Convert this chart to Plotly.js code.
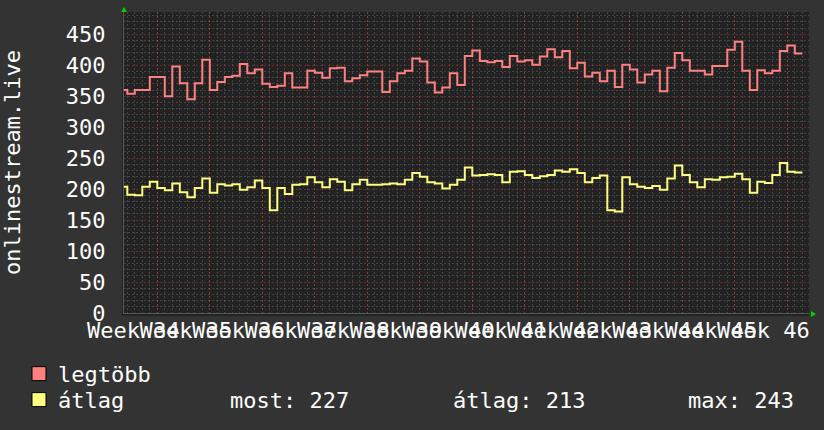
<!DOCTYPE html>
<html>
<head>
<meta charset="utf-8">
<script src="https://cdn.plot.ly/plotly-3.0.1.min.js"></script>
<style>
  html, body { margin: 0; padding: 0; background: #333333; }
  #chart { width: 824px; height: 430px; }
</style>
</head>
<body>
<div id="chart"></div>
<script>
// ---- data ----
const weekLabels = ['Week 34','Week 35','Week 36','Week 37','Week 38','Week 39','Week 40',
                    'Week 41','Week 42','Week 43','Week 44','Week 45','Week 46'];
const firstDay = -5; // day index of first daily sample, relative to start of Week 34 gridline

const legtobb = [360,354,360,360,381,381,350,398,371,345,371,409,360,373,381,383,402,387,393,370,
                 365,367,387,364,364,391,388,380,395,396,374,379,384,390,390,357,374,387,391,411,
                 406,372,356,364,387,368,415,424,407,405,407,397,415,406,408,401,414,426,413,423,
                 395,404,382,388,374,391,365,401,393,372,385,391,358,396,420,408,391,391,385,399,
                 399,425,438,391,360,392,387,391,423,432,419];

const atlag = [204,191,190,204,212,202,198,209,195,187,202,217,194,208,206,208,199,203,214,202,
               166,202,192,207,208,219,211,203,216,212,198,208,215,207,207,208,209,208,215,226,
               220,211,209,201,207,215,235,222,223,224,223,211,228,229,223,218,221,223,230,228,
               232,226,211,218,222,166,164,219,208,204,202,205,199,217,238,223,211,203,216,215,
               219,220,225,216,194,212,210,223,242,228,227];

const seriesNames = ['legtöbb', 'átlag'];
const seriesColors = ['#ff8080', '#ffff80'];
const statNames = ['most', 'átlag', 'max'];
const statValues = [227, 213, 243];
const yTitle = 'onlinestream.live';

// ---- build ----
function stepXY(vals) {
  const x = vals.map((_, i) => firstDay + i);
  x.push(firstDay + vals.length);
  const y = vals.slice();
  y.push(vals[vals.length - 1]);
  return {x, y};
}

const s1 = stepXY(legtobb), s2 = stepXY(atlag);
const traces = [
  {x: s1.x, y: s1.y, type: 'scatter', mode: 'lines', line: {shape: 'hv', color: seriesColors[0], width: 2}, name: seriesNames[0], hoverinfo: 'skip'},
  {x: s2.x, y: s2.y, type: 'scatter', mode: 'lines', line: {shape: 'hv', color: seriesColors[1], width: 2}, name: seriesNames[1], hoverinfo: 'skip'}
];

const W = 824, H = 430;
const L = 124, R = 809, T = 12, B = 313.3;
const px = v => (v - L) / (R - L);
const py = v => (B - v) / (B - T);

const FONT = 'DejaVu Sans Mono';
const majorGrid = 'rgba(255,70,70,0.30)';
const minorGrid = 'rgba(150,150,150,0.30)';

const shapes = [
  {type: 'rect', xref: 'paper', yref: 'paper', x0: px(122), x1: 1, y0: py(316), y1: 1,
   fillcolor: '#222222', line: {width: 0}, layer: 'below'},
  {type: 'path', xref: 'paper', yref: 'paper', xsizemode: 'pixel', ysizemode: 'pixel',
   xanchor: 0, yanchor: 1, path: 'M -3,0 L 3,0 L 0,5 Z', fillcolor: '#00d000', line: {width: 0}},
  {type: 'path', xref: 'paper', yref: 'paper', xsizemode: 'pixel', ysizemode: 'pixel',
   xanchor: 1, yanchor: 0, path: 'M 2,2 L 2,-4 L 7,-1 Z', fillcolor: '#00d000', line: {width: 0}},
  {type: 'rect', xref: 'paper', yref: 'paper', x0: px(32), x1: px(46), y0: py(381), y1: py(367),
   fillcolor: seriesColors[0], line: {color: '#000', width: 1}},
  {type: 'rect', xref: 'paper', yref: 'paper', x0: px(32), x1: px(46), y0: py(407), y1: py(393),
   fillcolor: seriesColors[1], line: {color: '#000', width: 1}}
];

const ann = (text, x, y) => ({text, xref: 'paper', yref: 'paper', x: px(x), y: py(y),
  xanchor: 'left', yanchor: 'middle', showarrow: false,
  font: {family: FONT, size: 22, color: '#ffffff'}});

const annotations = [
  ann(seriesNames[0], 56, 375),
  ann(seriesNames[1], 56, 401),
  ann(statNames[0] + ': ' + statValues[0], 228, 401),
  ann(statNames[1] + ': ' + statValues[1], 451, 401),
  ann(statNames[2] + ': ' + statValues[2], 686, 401)
];

const tickDays = weekLabels.map((_, i) => i * 7);

const layout = {
  width: W, height: H,
  margin: {l: L, r: W - R, t: T, b: H - B, pad: 0},
  paper_bgcolor: '#333333',
  plot_bgcolor: '#222222',
  showlegend: false,
  xaxis: {
    range: [(L - 157.3) / 7.5, (R - 157.3) / 7.5],
    tickmode: 'array', tickvals: tickDays, ticktext: weekLabels,
    tickangle: 0, ticklabelshift: -24, ticklabelstandoff: -2,
    ticks: '', showgrid: true, gridcolor: majorGrid, griddash: '2px,2px', gridwidth: 1,
    minor: {tickmode: 'linear', tick0: 0, dtick: 1, showgrid: true, gridcolor: minorGrid, griddash: '2px,2px', ticks: ''},
    zeroline: false, showline: true, linecolor: '#5a5a5a', linewidth: 1,
    tickfont: {family: FONT, size: 22, color: '#ffffff'},
    fixedrange: true
  },
  yaxis: {
    range: [0, 486], tick0: 0, dtick: 50,
    ticks: '', ticklabelstandoff: 13,
    showgrid: true, gridcolor: majorGrid, griddash: '2px,2px', gridwidth: 1,
    minor: {tick0: 0, dtick: 10, showgrid: true, gridcolor: minorGrid, griddash: '2px,2px', ticks: ''},
    zeroline: false, showline: true, linecolor: '#5a5a5a', linewidth: 1,
    tickfont: {family: FONT, size: 22, color: '#ffffff'},
    title: {text: yTitle, font: {family: FONT, size: 22, color: '#ffffff'}, standoff: 45},
    fixedrange: true
  },
  shapes, annotations
};

Plotly.newPlot('chart', traces, layout, {staticPlot: true, displayModeBar: false});
</script>
</body>
</html>
